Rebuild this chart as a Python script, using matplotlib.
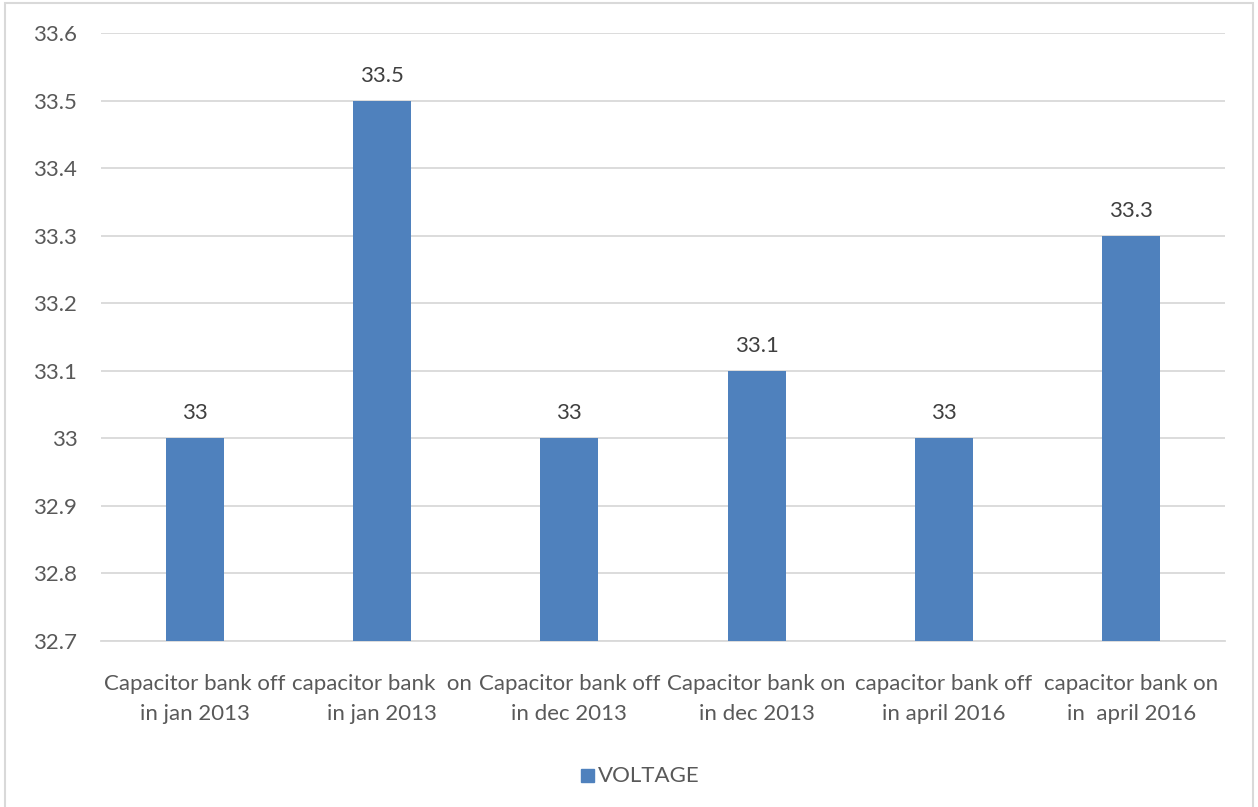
import matplotlib.pyplot as plt
from matplotlib.patches import Rectangle

categories = ['Capacitor bank off\nin jan 2013',
              'capacitor bank  on\nin jan 2013',
              'Capacitor bank off\nin dec 2013',
              'Capacitor bank on\nin dec 2013',
              'capacitor bank off\nin april 2016',
              'capacitor bank on\nin  april 2016']
voltage = [33.0, 33.5, 33.0, 33.1, 33.0, 33.3]
yticks = [32.7, 32.8, 32.9, 33.0, 33.1, 33.2, 33.3, 33.4, 33.5, 33.6]
ytick_labels = ['32.7', '32.8', '32.9', '33', '33.1', '33.2', '33.3', '33.4', '33.5', '33.6']
value_labels = ['33', '33.5', '33', '33.1', '33', '33.3']

plt.rcParams['font.family'] = ['Lato', 'DejaVu Sans']
text_col = '#595959'
bar_col = '#4f81bd'

fig = plt.figure(figsize=(12.58, 8.07), dpi=100)
ax = fig.add_axes([101/1258, 1 - 641/807, 1124/1258, 608/807])

x = range(len(categories))
ax.bar(x, voltage, width=0.31, color=bar_col, zorder=3)
for xi, v, lab in zip(x, voltage, value_labels):
    ax.text(xi, v + 0.022, lab, ha='center', va='bottom', fontsize=16, color='#404040')

ax.set_xlim(-0.5, len(categories) - 0.5)
ax.set_ylim(32.7, 33.6)
ax.set_yticks(yticks)
ax.set_yticklabels(ytick_labels)
ax.set_xticks(list(x))
ax.set_xticklabels(categories, linespacing=1.6)
ax.tick_params(axis='y', length=0, pad=17, labelsize=16, labelcolor=text_col)
ax.tick_params(axis='x', length=0, pad=24, labelsize=16, labelcolor=text_col)
ax.grid(axis='y', color='#d9d9d9', linewidth=1.3, zorder=0)
for s in ['top', 'right', 'left']:
    ax.spines[s].set_visible(False)
ax.spines['bottom'].set_color('#d9d9d9')
ax.spines['bottom'].set_linewidth(1.3)

# chart frame
fig.patches.append(Rectangle((5/1258, -0.01), 1248/1258, 1 - 3/807 + 0.01,
                             transform=fig.transFigure, fill=False,
                             edgecolor='#d9d9d9', linewidth=1.5))

# legend
fig.patches.append(Rectangle((581/1258, 1 - 782/807), 13/1258, 13/807,
                             transform=fig.transFigure, color=bar_col))
fig.text(598/1258, 1 - 776/807, 'VOLTAGE', ha='left', va='center',
         fontsize=16, color=text_col)

fig.savefig('out.png', dpi=100)
